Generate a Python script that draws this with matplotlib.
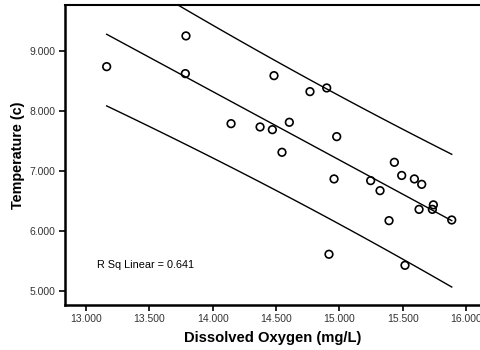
import numpy as np
import matplotlib.pyplot as plt

plt.rcParams.update({
    "font.family": ["Liberation Sans", "DejaVu Sans"],
    "font.size": 7.5,
})

# ---------- data ----------
oxygen = [13.163, 13.789, 13.784, 14.484, 14.768, 14.900, 14.145, 14.374,
          14.471, 14.605, 14.547, 14.979, 15.434, 15.492, 14.958, 15.247,
          15.592, 15.650, 15.321, 15.629, 15.742, 15.734, 15.887, 15.392,
          14.918, 15.518]
temperature = [8.733, 9.245, 8.617, 8.583, 8.317, 8.378, 7.783, 7.728,
               7.683, 7.806, 7.306, 7.567, 7.139, 6.920, 6.862, 6.834,
               6.862, 6.772, 6.667, 6.355, 6.430, 6.355, 6.178, 6.167,
               5.607, 5.423]
x_ticks = [13.0, 13.5, 14.0, 14.5, 15.0, 15.5, 16.0]
y_ticks = [5.0, 6.0, 7.0, 8.0, 9.0]
r_sq_text = "R Sq Linear = 0.641"

x = np.array(oxygen)
y = np.array(temperature)

# linear fit + 90% prediction interval for individual values
n = len(x)
b1, b0 = np.polyfit(x, y, 1)
resid = y - (b0 + b1 * x)
s = np.sqrt(np.sum(resid**2) / (n - 2))
t_crit = 1.711  # t(0.95, df=24)
xx = np.linspace(x.min(), x.max(), 100)
yy = b0 + b1 * xx
half = t_crit * s * np.sqrt(1 + 1 / n + (xx - x.mean())**2 / np.sum((x - x.mean())**2))

fig = plt.figure(figsize=(4.81, 3.5), dpi=100)
ax = fig.add_axes([0.1351, 0.1300, 0.8649, 0.8557])

ax.plot(xx, yy, color="black", lw=1.0)
ax.plot(xx, yy + half, color="black", lw=1.0)
ax.plot(xx, yy - half, color="black", lw=1.0)
ax.scatter(x, y, s=30, facecolors="none", edgecolors="black", linewidths=1.2, zorder=3)

ax.text(13.087, 5.42, r_sq_text, fontsize=7.8, va="center", ha="left")

ax.set_xlim(12.834, 16.118)
ax.set_ylim(4.77, 9.76)
ax.set_xticks(x_ticks)
ax.set_xticklabels([f"{v:.3f}" for v in x_ticks])
ax.set_yticks(y_ticks)
ax.set_yticklabels([f"{v:.3f}" for v in y_ticks])
ax.tick_params(length=4, width=1.2, color="black", labelcolor="#333333", pad=3)

ax.set_xlabel("Dissolved Oxygen (mg/L)", fontsize=10.6, fontweight="bold", labelpad=5)
ax.set_ylabel("Temperature (c)", fontsize=10.4, fontweight="bold", labelpad=3)

for side in ["left", "bottom"]:
    ax.spines[side].set_linewidth(1.8)
ax.spines["top"].set_linewidth(1.5)
ax.spines["right"].set_visible(False)

fig.savefig("out.png", dpi=100)
